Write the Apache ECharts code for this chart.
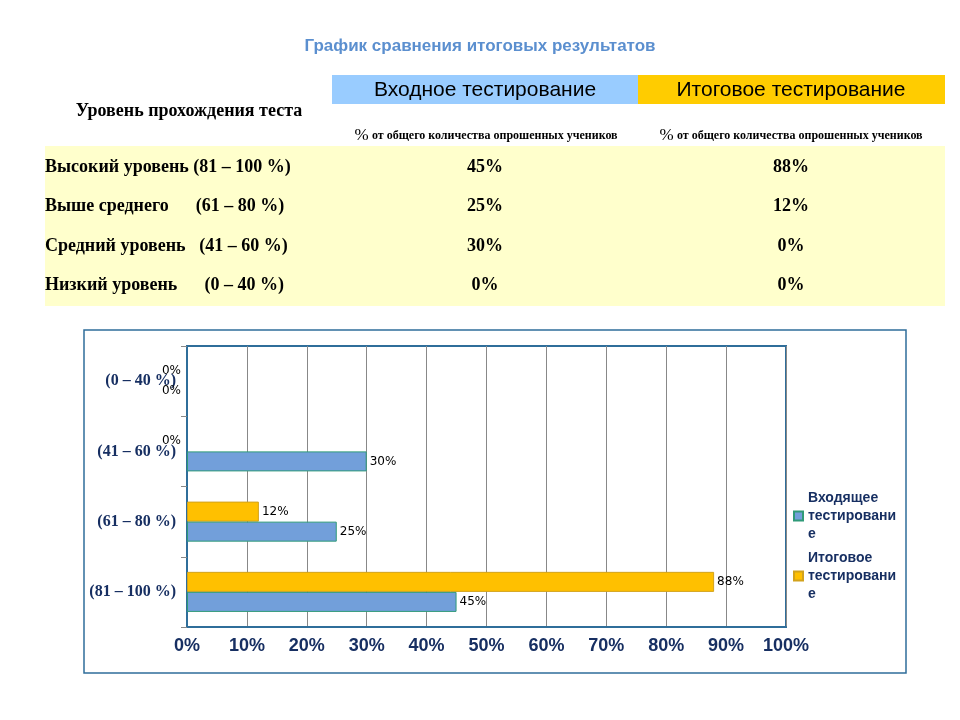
<!DOCTYPE html>
<html>
<head>
<meta charset="utf-8">
<script src="https://cdn.jsdelivr.net/npm/echarts@6/dist/echarts.min.js"></script>
<style>
  * { margin: 0; padding: 0; }
  body { background: #fff; }
</style>
</head>
<body>
<div id="main" style="width: 960px;height: 720px;"></div>
<script>
// данные таблицы и графика
var chartTitle = 'График сравнения итоговых результатов';
var levelHeader = 'Уровень прохождения теста';
var tableHeaders = ['Входное тестирование', 'Итоговое тестирование'];
var subHeader = 'от общего количества опрошенных учеников';
var levelNames = ['Высокий уровень (81 – 100 %)', 'Выше среднего      (61 – 80 %)', 'Средний уровень   (41 – 60 %)', 'Низкий уровень      (0 – 40 %)'];
var ranges = ['(81 – 100 %)', '(61 – 80 %)', '(41 – 60 %)', '(0 – 40 %)'];
var seriesNames = ['Входящее тестирование', 'Итоговое тестирование'];
var inputValues = [45, 25, 30, 0];
var finalValues = [88, 12, 0, 0];

var navy = '#172f62';
var serif = '"Liberation Serif", serif';
var sans = '"Liberation Sans", Arial, sans-serif';

// таблица сверху
var graphics = [
  { type: 'text', x: 480, y: 46, style: { text: chartTitle, align: 'center', verticalAlign: 'middle', fill: '#5b8fcf', font: 'bold 17px ' + sans } },
  { type: 'rect', shape: { x: 332, y: 75, width: 306, height: 29 }, style: { fill: '#99ccff' } },
  { type: 'rect', shape: { x: 638, y: 75, width: 307, height: 29 }, style: { fill: '#ffcc00' } },
  { type: 'text', x: 485, y: 90, style: { text: tableHeaders[0], align: 'center', verticalAlign: 'middle', fill: '#000', font: '21px ' + sans } },
  { type: 'text', x: 791, y: 90, style: { text: tableHeaders[1], align: 'center', verticalAlign: 'middle', fill: '#000', font: '21px ' + sans } },
  { type: 'text', x: 189, y: 111, style: { text: levelHeader, align: 'center', verticalAlign: 'middle', fill: '#000', font: 'bold 18px ' + serif } },
  { type: 'rect', shape: { x: 45, y: 146, width: 900, height: 160 }, style: { fill: '#ffffcc' } },
  // рамка графика
  { type: 'rect', shape: { x: 84, y: 330, width: 822, height: 343 }, style: { fill: 'none', stroke: '#2f6e9a', lineWidth: 1.5 } }
];
[486, 791].forEach(function (cx) {
  graphics.push({ type: 'text', x: cx, y: 136, style: {
    text: '{p|%} {s|' + subHeader + '}', align: 'center', verticalAlign: 'middle',
    rich: { p: { font: '17px ' + serif, fill: '#000' }, s: { font: 'bold 12px ' + serif, fill: '#000' } }
  } });
});
levelNames.forEach(function (name, i) {
  var y = 167 + i * 39.6;
  graphics.push({ type: 'text', x: 45, y: y, style: { text: name, verticalAlign: 'middle', fill: '#000', font: 'bold 18px ' + serif } });
  graphics.push({ type: 'text', x: 485, y: y, style: { text: inputValues[i] + '%', align: 'center', verticalAlign: 'middle', fill: '#000', font: 'bold 18px ' + serif } });
  graphics.push({ type: 'text', x: 791, y: y, style: { text: finalValues[i] + '%', align: 'center', verticalAlign: 'middle', fill: '#000', font: 'bold 18px ' + serif } });
});

// нулевые значения: подпись слева, без рамки
function toData(values) {
  return values.map(function (v) {
    if (v === 0) {
      return { value: v, itemStyle: { borderWidth: 0 }, label: { position: 'left', distance: 6 } };
    }
    return v;
  });
}

var labelStyle = { show: true, position: 'right', distance: 3, formatter: '{c}%', color: '#000', fontFamily: '"DejaVu Sans", sans-serif', fontSize: 12 };

var myChart = echarts.init(document.getElementById('main'));
myChart.setOption({
  animation: false,
  graphic: graphics,
  legend: {
    orient: 'vertical',
    left: 788,
    top: 484,
    icon: 'rect',
    itemWidth: 9,
    itemHeight: 9,
    itemGap: 6,
    data: seriesNames,
    formatter: function (name) {
      return name.replace(' тестировани', '\nтестировани').replace(/е$/, '\nе');
    },
    textStyle: { color: navy, fontFamily: sans, fontWeight: 'bold', fontSize: 14, lineHeight: 18 }
  },
  grid: {
    left: 187, right: 174, top: 346, bottom: 93,
    show: true, borderColor: '#2f6e9a', borderWidth: 2, containLabel: false
  },
  xAxis: {
    type: 'value',
    min: 0, max: 100, interval: 10,
    axisLine: { show: true, lineStyle: { color: '#2f6e9a', width: 2 } },
    axisTick: { show: false },
    splitLine: { lineStyle: { color: '#888', width: 1 } },
    axisLabel: { formatter: '{value}%', color: navy, fontFamily: sans, fontWeight: 'bold', fontSize: 18, margin: 10 }
  },
  yAxis: {
    type: 'category',
    data: ranges,
    axisLine: { show: true, lineStyle: { color: '#2f6e9a', width: 2 } },
    axisTick: { show: true, length: 6, inside: false, lineStyle: { color: '#888' } },
    axisLabel: { color: navy, fontFamily: serif, fontWeight: 'bold', fontSize: 16, margin: 11 }
  },
  series: [
    {
      name: seriesNames[1],
      type: 'bar',
      barGap: '0%',
      barCategoryGap: '43%',
      itemStyle: { color: '#ffc000', borderColor: '#d2a21c', borderWidth: 1 },
      label: labelStyle,
      data: toData(finalValues)
    },
    {
      name: seriesNames[0],
      type: 'bar',
      barGap: '0%',
      barCategoryGap: '43%',
      itemStyle: { color: '#729fda', borderColor: '#2f9a78', borderWidth: 1 },
      label: labelStyle,
      data: toData(inputValues)
    }
  ]
});
</script>
</body>
</html>
